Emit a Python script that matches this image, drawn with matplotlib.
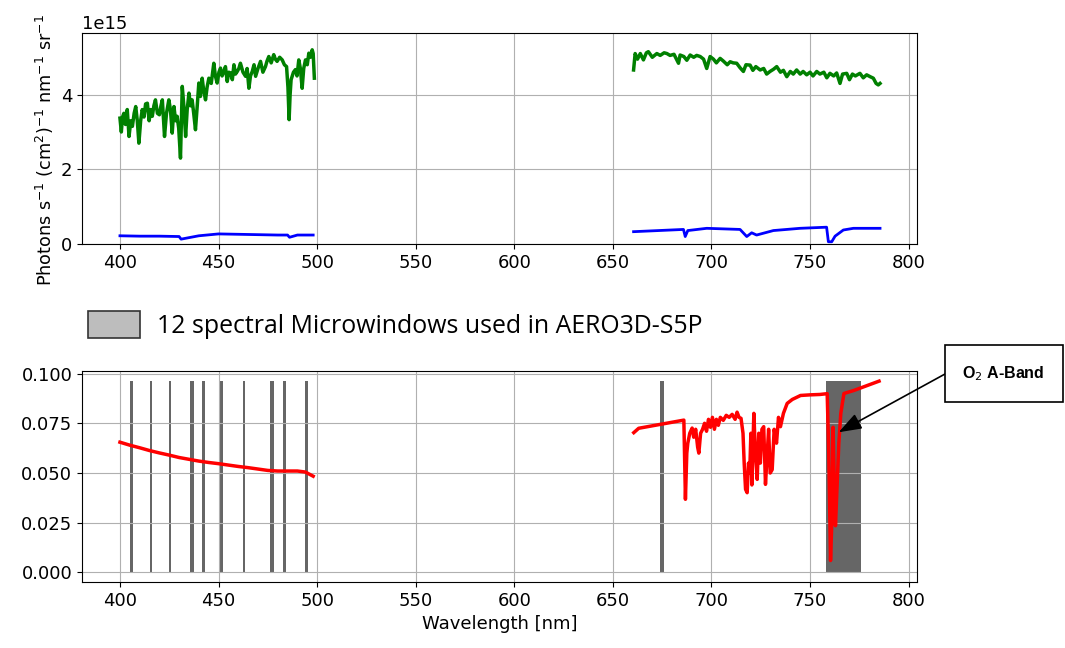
import matplotlib
matplotlib.use('Agg')
import matplotlib.pyplot as plt
from matplotlib.patches import Patch, Rectangle

W, H = 1065, 648

# --- irradiance (1e15 photons s-1 cm-2 nm-1 sr-1)
irr_nm_vis = [400, 400.7, 401.3, 402, 402.8, 403.7, 404.6, 405.5, 406.3, 407.2,
              408, 408.8, 409.6, 410.5, 411.3, 412.2, 413, 413.9, 414.8, 415.6,
              416.4, 417.2, 418, 419, 420, 420.8, 421.5, 422.6, 423.6, 424.8,
              425.6, 426.5, 427.4, 428.2, 429, 429.8, 430.7, 431.6, 432.4, 433.3,
              434.1, 435, 435.8, 436.6, 437.4, 438.3, 439.2, 440, 440.8, 441.7,
              442.5, 443.4, 444.2, 445.1, 446.3, 447.6, 448.4, 449.3, 450.2, 451,
              451.8, 452.7, 453.5, 454.4, 455.2, 456.1, 457, 457.8, 458.6, 459.5,
              460.3, 461.1, 462.4, 463.7, 464.5, 465.4, 466.2, 467.1, 468, 468.8,
              470, 471.3, 472.5, 473.8, 474.6, 475.5, 476.7, 478, 478.8, 479.7,
              481, 482.3, 483.4, 484.5, 485.2, 485.8, 486.3, 486.8, 488, 489,
              489.8, 490.7, 491.5, 492.4, 493.2, 494.1, 495, 495.8, 496.6, 497.5,
              498, 498.6]
irr_vis = [3.37, 3.0, 3.4, 3.5, 3.2, 3.6, 2.88, 3.3, 3.15, 3.5,
           3.68, 3.3, 2.7, 3.3, 3.6, 3.4, 3.75, 3.77, 3.3, 3.6,
           3.42, 3.7, 3.86, 3.5, 3.46, 3.7, 3.86, 2.88, 3.5, 3.86,
           3.6, 2.97, 3.68, 3.3, 3.42, 3.1, 2.3, 4.22, 3.7, 2.88,
           3.6, 4.04, 3.7, 3.86, 3.5, 3.06, 3.7, 4.31, 3.95, 4.44,
           4.1, 3.86, 4.2, 4.44, 4.3, 4.84, 4.5, 4.31, 4.6, 4.71,
           4.5, 4.62, 4.75, 4.35, 4.6, 4.58, 4.4, 4.8, 4.55, 4.62,
           4.7, 4.84, 4.6, 4.49, 4.7, 4.17, 4.5, 4.62, 4.8, 4.49,
           4.7, 4.89, 4.6, 4.75, 4.9, 5.02, 4.85, 5.07, 4.95, 4.89,
           5.0, 4.93, 4.8, 4.75, 4.2, 3.33, 4.0, 4.4, 4.6, 4.67,
           4.5, 4.93, 4.7, 4.17, 4.7, 4.93, 4.8, 5.11, 5.0, 5.2,
           5.1, 4.44]

irr_nm_nir = [660.5, 661.3, 662.5, 663.9, 665.5, 667, 668, 670, 672.3, 674,
              676, 677.4, 679, 681, 683.3, 684.1, 686, 687.5, 689.2, 691,
              692.5, 694.3, 696, 697.6, 699.3, 701, 702.5, 704.4, 706, 708,
              709.5, 711, 712.8, 714.5, 716.2, 717.5, 719.6, 721, 722.5, 724.7,
              726.5, 728, 729.7, 731.5, 733.1, 735, 736.5, 738.2, 740, 741.5,
              743.2, 745, 746.5, 748.3, 750, 751.5, 753.4, 755, 757, 758.5,
              760.1, 762, 763.5, 765.2, 766.5, 768.6, 770, 771.5, 773, 775.3,
              777, 778.7, 780.5, 782.1, 783.5, 784.6, 785.5]
irr_nir = [4.66, 5.1, 4.95, 5.1, 4.93, 5.12, 5.15, 5.0, 5.1, 5.05,
           5.12, 5.1, 5.05, 5.08, 4.84, 5.06, 5.02, 4.92, 5.06, 5.0,
           5.05, 5.02, 4.95, 4.7, 5.02, 4.95, 4.85, 4.97, 4.9, 4.8,
           4.88, 4.85, 4.84, 4.72, 4.62, 4.8, 4.79, 4.65, 4.75, 4.66,
           4.7, 4.55, 4.62, 4.68, 4.75, 4.6, 4.65, 4.48, 4.62, 4.55,
           4.66, 4.55, 4.62, 4.53, 4.6, 4.5, 4.62, 4.55, 4.6, 4.45,
           4.57, 4.5, 4.58, 4.3, 4.55, 4.57, 4.4, 4.55, 4.5, 4.57,
           4.45, 4.53, 4.48, 4.44, 4.3, 4.26, 4.3]

# --- radiance (1e15 photons s-1 cm-2 nm-1 sr-1)
rad_nm_vis = [400, 410, 420, 430, 431, 440, 450, 460, 470, 480, 485, 486, 490, 498]
rad_vis = [0.22, 0.21, 0.21, 0.2, 0.13, 0.22, 0.27, 0.26, 0.25, 0.24, 0.24, 0.18, 0.24, 0.24]

rad_nm_nir = [660.5, 685.8, 686.7, 688, 697.6, 714.5, 717.9, 720.4, 722.9, 731.4,
              744.9, 758.4, 759.3, 761, 762.7, 766.9, 772, 785.5]
rad_nir = [0.33, 0.39, 0.2, 0.36, 0.42, 0.39, 0.2, 0.3, 0.24, 0.36,
           0.42, 0.45, 0.06, 0.06, 0.21, 0.375, 0.42, 0.42]

# --- reflectance
refl_nm_vis = [400, 405, 410, 415, 420, 425, 430, 435, 440, 445, 450, 455,
               460, 465, 470, 475, 480, 485, 490, 494, 498]
refl_vis = [0.0655, 0.064, 0.0627, 0.0613, 0.0601, 0.059, 0.0578, 0.0569, 0.056,
            0.0553, 0.0547, 0.054, 0.0533, 0.0527, 0.052, 0.0513, 0.051, 0.051,
            0.051, 0.0505, 0.0484]

refl_nm_nir = [660.6, 663.1, 686, 686.8, 687.5, 688, 689, 690.2, 691, 692,
               693, 693.6, 694.5, 695.5, 696.5, 697.5, 698.5, 699.5, 700.5, 701.5,
               702.5, 703.5, 704.5, 706, 707.5, 709, 710.5, 712, 713, 714,
               715, 716, 716.6, 717.3, 718.1, 718.8, 719.4, 720, 720.5, 721.5,
               722.3, 723.2, 724, 724.8, 725.6, 726.5, 727.4, 728.3, 729, 729.8,
               730.8, 731.8, 733, 734, 735, 736.5, 738.4, 741, 745.2, 750,
               755, 758.7, 759.5, 760.4, 761.2, 761.7, 762.4, 762.9, 764.6, 765.6,
               767.2, 772.2, 779, 785]
refl_nir = [0.0703, 0.0725, 0.0766, 0.0368, 0.060, 0.065, 0.070, 0.0726, 0.068, 0.072,
            0.063, 0.060, 0.070, 0.072, 0.075, 0.071, 0.077, 0.073, 0.078, 0.072,
            0.077, 0.074, 0.078, 0.0765, 0.079, 0.078, 0.0795, 0.077, 0.0806, 0.078,
            0.0775, 0.070, 0.055, 0.0418, 0.0401, 0.055, 0.0500, 0.070, 0.0440, 0.0800,
            0.060, 0.0468, 0.070, 0.055, 0.072, 0.0733, 0.0443, 0.0600, 0.072, 0.050,
            0.0517, 0.072, 0.065, 0.078, 0.0733, 0.080, 0.085, 0.087, 0.089, 0.0893,
            0.0895, 0.0899, 0.060, 0.006, 0.030, 0.073, 0.040, 0.0235, 0.065, 0.080,
            0.090, 0.0915, 0.094, 0.0962]

# --- the 12 microwindows (nm)
mw_start = [405.3, 415.1, 425.0, 435.5, 441.7, 450.4, 462.3, 476.0, 482.8, 494.1, 673.7, 757.9]
mw_end   = [406.5, 416.3, 425.8, 437.5, 442.9, 452.4, 463.5, 478.0, 484.0, 495.3, 675.7, 776.0]
mw_top = 0.0965

plt.rcParams['font.size'] = 13

fig = plt.figure(figsize=(W / 100, H / 100), dpi=100)
ax1 = fig.add_axes([82 / W, 1 - 244 / H, 835 / W, 211 / H])
ax2 = fig.add_axes([82 / W, 1 - 582 / H, 835 / W, 211 / H])

# top panel
ax1.plot(irr_nm_vis, [v * 1e15 for v in irr_vis], color='green', lw=2.5)
ax1.plot(irr_nm_nir, [v * 1e15 for v in irr_nir], color='green', lw=2.5)
ax1.plot(rad_nm_vis, [v * 1e15 for v in rad_vis], color='blue', lw=2)
ax1.plot(rad_nm_nir, [v * 1e15 for v in rad_nir], color='blue', lw=2)
ax1.set_xlim(380.75, 804.25)
ax1.set_ylim(0, 5.65e15)
ax1.set_yticks([0, 2e15, 4e15])
ax1.set_xticks(range(400, 801, 50))
ax1.set_ylabel(r'Photons s$^{-1}$ (cm$^{2}$)$^{-1}$ nm$^{-1}$ sr$^{-1}$', fontsize=12.7)
ax1.yaxis.set_label_coords(-0.031, 0.445)
ax1.grid(True)

# bottom panel
for s, e in zip(mw_start, mw_end):
    ax2.fill_between([s, e], 0, mw_top, color='#666666', lw=0)
ax2.plot(refl_nm_vis, refl_vis, color='red', lw=2.5)
ax2.plot(refl_nm_nir, refl_nir, color='red', lw=2.5)
ax2.set_xlim(380.75, 804.25)
ax2.set_ylim(-0.0048, 0.1013)
ax2.set_yticks([0, 0.025, 0.05, 0.075, 0.1])
ax2.set_yticklabels(['0.000', '0.025', '0.050', '0.075', '0.100'])
ax2.set_xticks(range(400, 801, 50))
ax2.set_xlabel('Wavelength [nm]')
ax2.grid(True)

# legend for the microwindows
fig.legend(handles=[Patch(facecolor='#bdbdbd', edgecolor='#333333', lw=1.2)],
           labels=['12 spectral Microwindows used in AERO3D-S5P'],
           loc='center left', bbox_to_anchor=(88 / W, 1 - 325 / H),
           frameon=False, borderpad=0, borderaxespad=0,
           handlelength=2.1, handleheight=1.3, handletextpad=0.68,
           prop={'family': 'Open Sans', 'size': 17.9})

# O2 A-band annotation box
fig.patches.append(Rectangle((945 / W, 1 - 402 / H), 118 / W, 57 / H,
                             transform=fig.transFigure, fc='white', ec='black', lw=1.2))
fig.text(962 / W, 1 - 374 / H, r'O$_\mathrm{2}$ A-Band', family='Liberation Sans',
         weight='bold', size=11.5, va='center', ha='left')
ax2.annotate('', xy=(764.5, 0.0705), xycoords='data',
             xytext=(945 / W, 1 - 374 / H), textcoords='figure fraction',
             arrowprops=dict(arrowstyle='-|>,head_length=0.7,head_width=0.25',
                             color='black', lw=1.2, mutation_scale=20,
                             shrinkA=0, shrinkB=0))

fig.savefig('out.png', dpi=100)
